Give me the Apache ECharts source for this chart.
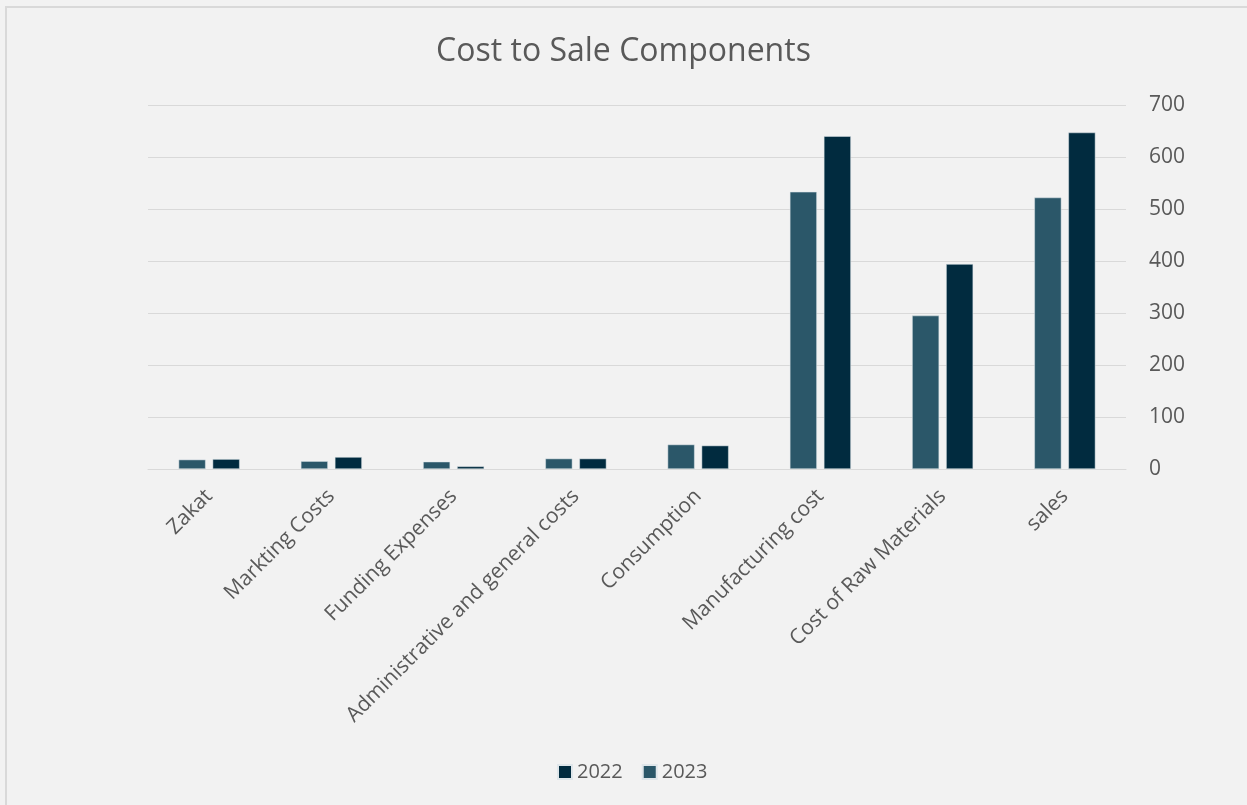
<!DOCTYPE html>
<html>
<head>
<meta charset="utf-8">
<script src="https://cdn.jsdelivr.net/npm/echarts@6/dist/echarts.min.js"></script>
<style>
  html, body { margin: 0; padding: 0; background: #f2f2f2; }
  #chart { width: 1247px; height: 805px; }
</style>
</head>
<body>
<div id="chart"></div>
<script>
// Cost to sale components, 2022 vs 2023
const categories = [
  'Zakat', 'Markting Costs', 'Funding Expenses', 'Administrative and general costs',
  'Consumption', 'Manufacturing cost', 'Cost of Raw Materials', 'sales'
];
const values2023 = [18, 15, 14, 20, 47, 533, 295, 522];
const values2022 = [19, 23, 5, 20, 45, 640, 394, 647];
const yTicks = [0, 100, 200, 300, 400, 500, 600, 700];

const textColor = '#595959';
const font = '"Open Sans", "Noto Sans", sans-serif';

const chart = echarts.init(document.getElementById('chart'), null, { renderer: 'canvas' });
chart.setOption({
  backgroundColor: '#f2f2f2',
  animation: false,
  title: {
    text: 'Cost to Sale Components',
    left: 'center',
    top: 31,
    textStyle: { fontFamily: font, fontSize: 32, fontWeight: 'normal', color: textColor }
  },
  graphic: [{
    type: 'rect',
    shape: { x: 6, y: 7, width: 1260, height: 830 },
    style: { fill: 'none', stroke: '#d9d9d9', lineWidth: 2 },
    silent: true
  }],
  legend: {
    data: ['2022', '2023'],
    left: 557,
    top: 762,
    padding: 0,
    itemWidth: 14,
    itemHeight: 14,
    itemGap: 19,
    icon: 'rect',
    textStyle: { fontFamily: font, fontSize: 20, color: textColor }
  },
  grid: { left: 148, right: 121, top: 105, bottom: 336 },
  xAxis: {
    type: 'category',
    data: categories,
    axisLine: { show: true, lineStyle: { color: '#d9d9d9', width: 1 } },
    axisTick: { show: false },
    axisLabel: {
      rotate: 45,
      interval: 0,
      margin: 24,
      fontFamily: font,
      fontSize: 21,
      color: textColor
    }
  },
  yAxis: {
    type: 'value',
    position: 'right',
    min: yTicks[0],
    max: yTicks[yTicks.length - 1],
    interval: 100,
    axisLine: { show: false },
    axisTick: { show: false },
    splitLine: { lineStyle: { color: '#d9d9d9', width: 1 } },
    axisLabel: { margin: 23, fontFamily: font, fontSize: 21, color: textColor }
  },
  series: [
    {
      name: '2023',
      type: 'bar',
      data: values2023,
      barWidth: 27,
      barGap: '26%',
      itemStyle: { color: '#2b5769', borderColor: '#dfe6ea', borderWidth: 0.5 }
    },
    {
      name: '2022',
      type: 'bar',
      data: values2022,
      barWidth: 27,
      barGap: '26%',
      itemStyle: { color: '#012b3f', borderColor: '#dfe6ea', borderWidth: 0.5 }
    }
  ]
});
</script>
</body>
</html>
